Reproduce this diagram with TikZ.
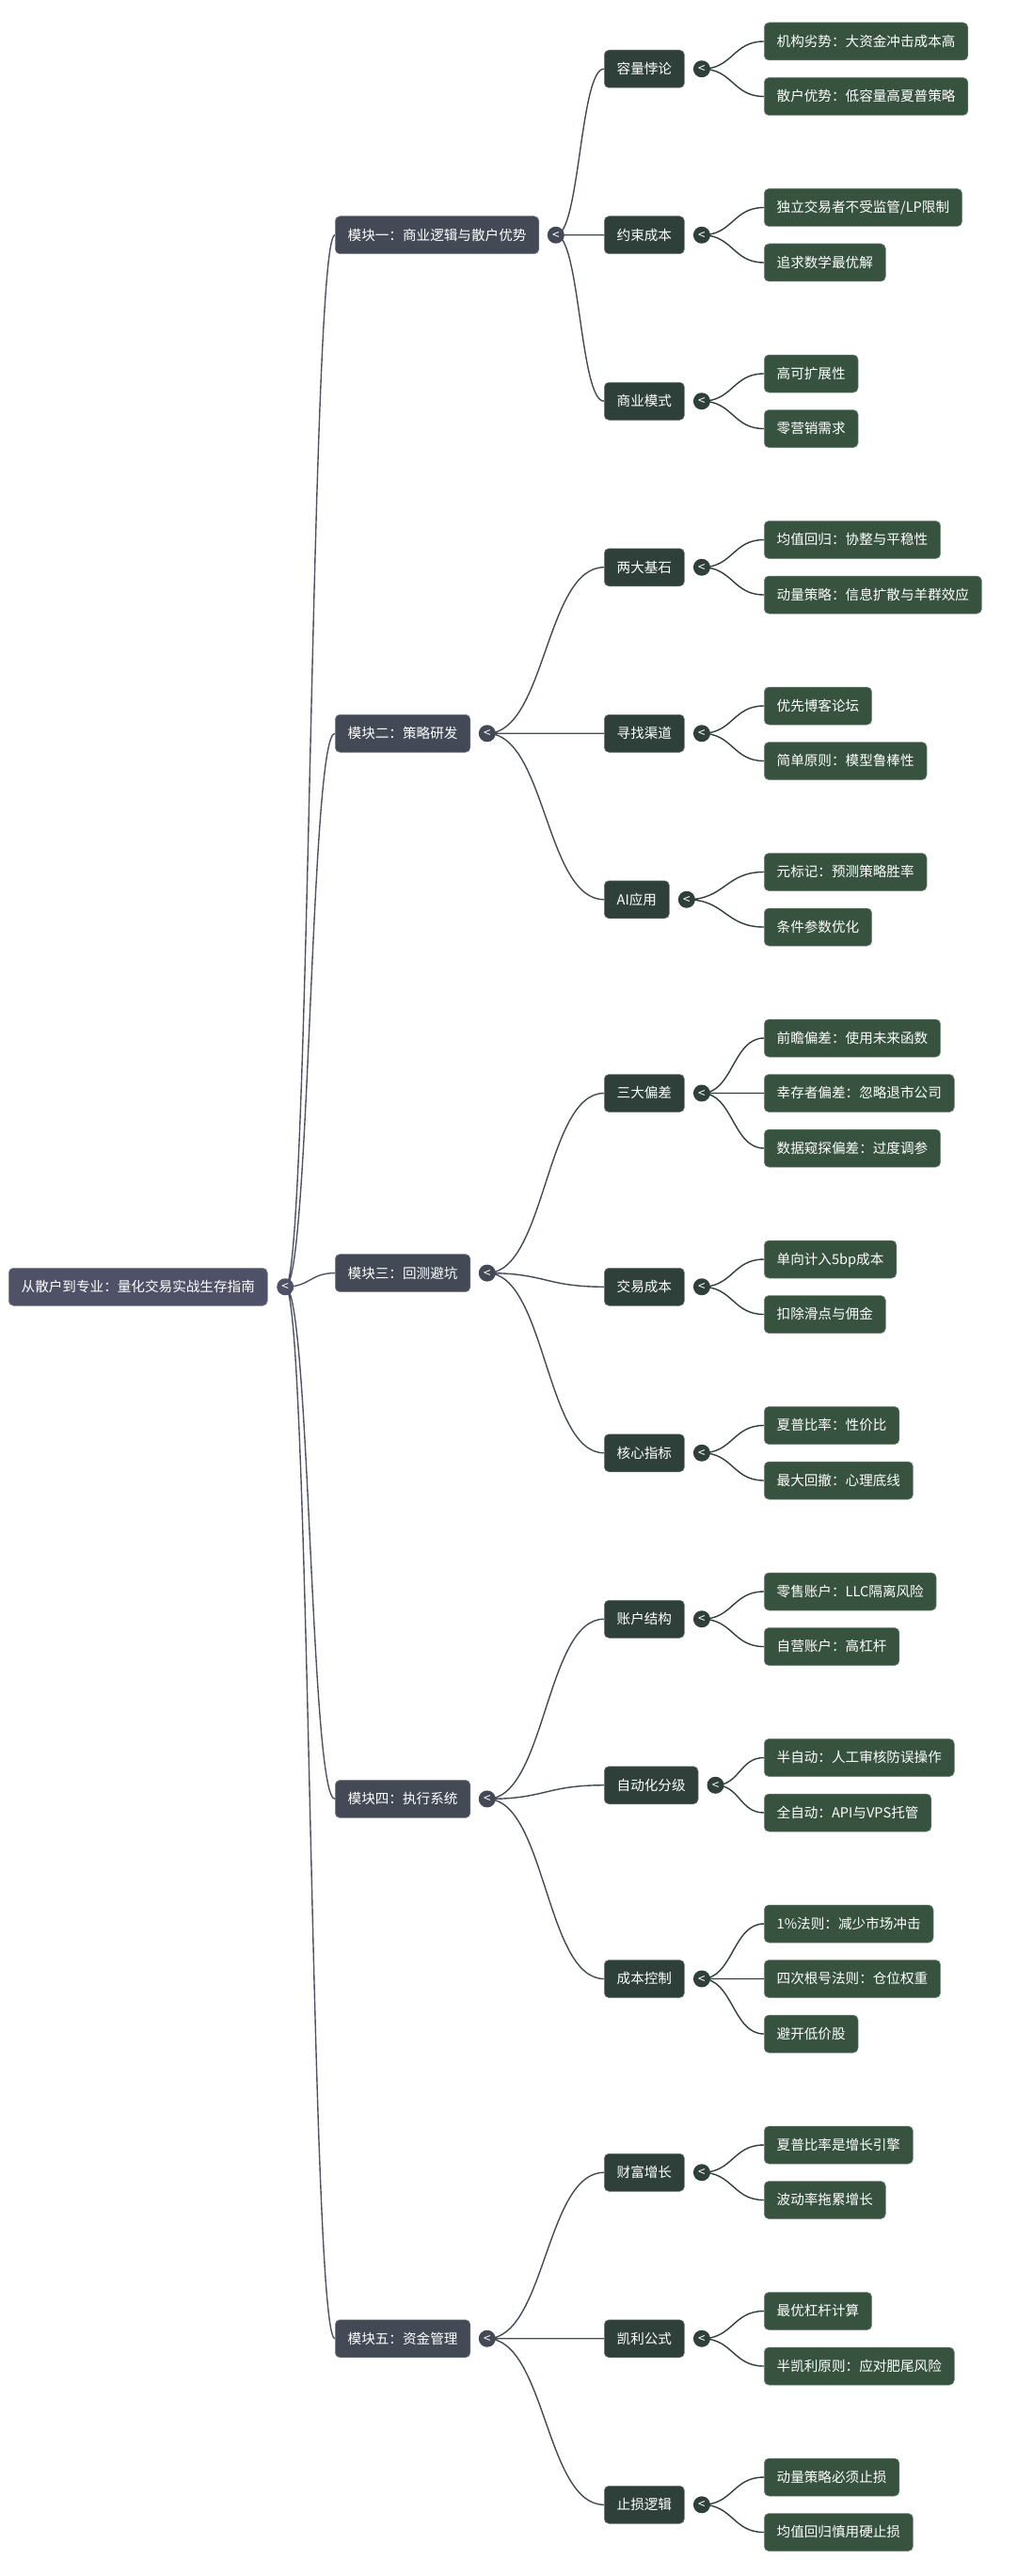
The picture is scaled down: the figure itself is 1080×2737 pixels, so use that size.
\documentclass[tikz,border=0pt]{standalone}
\usepackage{fontspec}
\setmainfont{Noto Sans CJK SC}
\usetikzlibrary{
  positioning,
  calc,
  backgrounds
}
\definecolor{rootc}{HTML}{4F5167}
\definecolor{modc}{HTML}{434A55}
\definecolor{subc}{HTML}{2F403A}
\definecolor{leafc}{HTML}{37533F}

\begin{document}
\begin{tikzpicture}[x=1pt, y=-1pt,
  every node/.style = {shape=rectangle, rounded corners=5pt,
    text=white, anchor=west, align=center, inner xsep=13.4pt,
    minimum height=40pt, text height=12pt, text depth=1.2pt,
    font=\fontsize{14.6}{16}\selectfont},
  box/.style = {fill=#1, draw=#1!70!white, line width=0.5pt},
  fold/.style = {shape=circle, fill=#1, inner sep=0pt, minimum size=18pt,
    text height=9pt, text depth=0pt, font=\fontsize{13.5}{13.5}\selectfont},
  link/.style = {draw=#1, line width=1.4pt,
    to path={let \p1=(\tikztostart), \p2=(\tikztotarget) in
      .. controls ({(\x1+\x2)/2},\y1) and ({(\x1+\x2)/2},\y2) .. (\tikztotarget)}}]
  \useasboundingbox (0,0) rectangle (1080,2737);

  \node[box=rootc] (guide) at (9,1367.25) {从散户到专业：量化交易实战生存指南};
  \node[fold=rootc, right=9.5pt of guide] (guide-f) {<};

  \node[box=modc] (m1) at (356,249.75) {模块一：商业逻辑与散户优势};
  \node[box=modc] (m2) at (356,779.25) {模块二：策略研发};
  \node[box=modc] (m3) at (356,1352.6) {模块三：回测避坑};
  \node[box=modc] (m4) at (356,1911.4) {模块四：执行系统};
  \node[box=modc] (m5) at (356,2484.75) {模块五：资金管理};
  \node[fold=modc, right=8.5pt of m1] (m1-f) {<};
  \node[fold=modc, right=8.5pt of m2] (m2-f) {<};
  \node[fold=modc, right=8.5pt of m3] (m3-f) {<};
  \node[fold=modc, right=8.5pt of m4] (m4-f) {<};
  \node[fold=modc, right=8.5pt of m5] (m5-f) {<};

  \node[box=subc] (m1a) at (642,73.25) {容量悖论};
  \node[box=subc] (m1b) at (642,249.75) {约束成本};
  \node[box=subc] (m1c) at (642,426.25) {商业模式};
  \node[box=subc] (m2a) at (642,602.75) {两大基石};
  \node[box=subc] (m2b) at (642,779.25) {寻找渠道};
  \node[box=subc] (m2c) at (642,955.75) {AI应用};
  \node[box=subc] (m3a) at (642,1161.5) {三大偏差};
  \node[box=subc] (m3b) at (642,1367.25) {交易成本};
  \node[box=subc] (m3c) at (642,1543.75) {核心指标};
  \node[box=subc] (m4a) at (642,1720.25) {账户结构};
  \node[box=subc] (m4b) at (642,1896.75) {自动化分级};
  \node[box=subc] (m4c) at (642,2102.5) {成本控制};
  \node[box=subc] (m5a) at (642,2308.25) {财富增长};
  \node[box=subc] (m5b) at (642,2484.75) {凯利公式};
  \node[box=subc] (m5c) at (642,2661.25) {止损逻辑};
  \node[fold=subc, right=9pt of m1a] (m1a-f) {<};
  \node[fold=subc, right=9pt of m1b] (m1b-f) {<};
  \node[fold=subc, right=9pt of m1c] (m1c-f) {<};
  \node[fold=subc, right=9pt of m2a] (m2a-f) {<};
  \node[fold=subc, right=9pt of m2b] (m2b-f) {<};
  \node[fold=subc, right=9pt of m2c] (m2c-f) {<};
  \node[fold=subc, right=9pt of m3a] (m3a-f) {<};
  \node[fold=subc, right=9pt of m3b] (m3b-f) {<};
  \node[fold=subc, right=9pt of m3c] (m3c-f) {<};
  \node[fold=subc, right=9pt of m4a] (m4a-f) {<};
  \node[fold=subc, right=9pt of m4b] (m4b-f) {<};
  \node[fold=subc, right=9pt of m4c] (m4c-f) {<};
  \node[fold=subc, right=9pt of m5a] (m5a-f) {<};
  \node[fold=subc, right=9pt of m5b] (m5b-f) {<};
  \node[fold=subc, right=9pt of m5c] (m5c-f) {<};

  \node[box=leafc] (m1a1) at (812,44) {机构劣势：大资金冲击成本高};
  \node[box=leafc] (m1a2) at (812,102.5) {散户优势：低容量高夏普策略};
  \node[box=leafc] (m1b1) at (812,220.5) {独立交易者不受监管/LP限制};
  \node[box=leafc] (m1b2) at (812,279) {追求数学最优解};
  \node[box=leafc] (m1c1) at (812,397) {高可扩展性};
  \node[box=leafc] (m1c2) at (812,455.5) {零营销需求};
  \node[box=leafc] (m2a1) at (812,573.5) {均值回归：协整与平稳性};
  \node[box=leafc] (m2a2) at (812,632) {动量策略：信息扩散与羊群效应};
  \node[box=leafc] (m2b1) at (812,750) {优先博客论坛};
  \node[box=leafc] (m2b2) at (812,808.5) {简单原则：模型鲁棒性};
  \node[box=leafc] (m2c1) at (812,926.5) {元标记：预测策略胜率};
  \node[box=leafc] (m2c2) at (812,985) {条件参数优化};
  \node[box=leafc] (m3a1) at (812,1103) {前瞻偏差：使用未来函数};
  \node[box=leafc] (m3a2) at (812,1161.5) {幸存者偏差：忽略退市公司};
  \node[box=leafc] (m3a3) at (812,1220) {数据窥探偏差：过度调参};
  \node[box=leafc] (m3b1) at (812,1338) {单向计入5bp成本};
  \node[box=leafc] (m3b2) at (812,1396.5) {扣除滑点与佣金};
  \node[box=leafc] (m3c1) at (812,1514.5) {夏普比率：性价比};
  \node[box=leafc] (m3c2) at (812,1573) {最大回撤：心理底线};
  \node[box=leafc] (m4a1) at (812,1691) {零售账户：LLC隔离风险};
  \node[box=leafc] (m4a2) at (812,1749.5) {自营账户：高杠杆};
  \node[box=leafc] (m4b1) at (812,1867.5) {半自动：人工审核防误操作};
  \node[box=leafc] (m4b2) at (812,1926) {全自动：API与VPS托管};
  \node[box=leafc] (m4c1) at (812,2044) {1\%法则：减少市场冲击};
  \node[box=leafc] (m4c2) at (812,2102.5) {四次根号法则：仓位权重};
  \node[box=leafc] (m4c3) at (812,2161) {避开低价股};
  \node[box=leafc] (m5a1) at (812,2279) {夏普比率是增长引擎};
  \node[box=leafc] (m5a2) at (812,2337.5) {波动率拖累增长};
  \node[box=leafc] (m5b1) at (812,2455.5) {最优杠杆计算};
  \node[box=leafc] (m5b2) at (812,2514) {半凯利原则：应对肥尾风险};
  \node[box=leafc] (m5c1) at (812,2632) {动量策略必须止损};
  \node[box=leafc] (m5c2) at (812,2690.5) {均值回归慎用硬止损};

  \begin{scope}[on background layer]
    \fill[white] (0,0) rectangle (1080,2737);
    \draw[link=rootc] (guide-f.center) to (m1.west) (guide-f.center) to (m2.west)
      (guide-f.center) to (m3.west) (guide-f.center) to (m4.west) (guide-f.center) to (m5.west);

    \draw[link=modc] (m1-f.center) to (m1a.west) (m1-f.center) to (m1b.west) (m1-f.center) to (m1c.west);
    \draw[link=modc] (m2-f.center) to (m2a.west) (m2-f.center) to (m2b.west) (m2-f.center) to (m2c.west);
    \draw[link=modc] (m3-f.center) to (m3a.west) (m3-f.center) to (m3b.west) (m3-f.center) to (m3c.west);
    \draw[link=modc] (m4-f.center) to (m4a.west) (m4-f.center) to (m4b.west) (m4-f.center) to (m4c.west);
    \draw[link=modc] (m5-f.center) to (m5a.west) (m5-f.center) to (m5b.west) (m5-f.center) to (m5c.west);

    \draw[link=subc] (m1a-f.center) to (m1a1.west) (m1a-f.center) to (m1a2.west);
    \draw[link=subc] (m1b-f.center) to (m1b1.west) (m1b-f.center) to (m1b2.west);
    \draw[link=subc] (m1c-f.center) to (m1c1.west) (m1c-f.center) to (m1c2.west);
    \draw[link=subc] (m2a-f.center) to (m2a1.west) (m2a-f.center) to (m2a2.west);
    \draw[link=subc] (m2b-f.center) to (m2b1.west) (m2b-f.center) to (m2b2.west);
    \draw[link=subc] (m2c-f.center) to (m2c1.west) (m2c-f.center) to (m2c2.west);
    \draw[link=subc] (m3a-f.center) to (m3a1.west) (m3a-f.center) to (m3a2.west) (m3a-f.center) to (m3a3.west);
    \draw[link=subc] (m3b-f.center) to (m3b1.west) (m3b-f.center) to (m3b2.west);
    \draw[link=subc] (m3c-f.center) to (m3c1.west) (m3c-f.center) to (m3c2.west);
    \draw[link=subc] (m4a-f.center) to (m4a1.west) (m4a-f.center) to (m4a2.west);
    \draw[link=subc] (m4b-f.center) to (m4b1.west) (m4b-f.center) to (m4b2.west);
    \draw[link=subc] (m4c-f.center) to (m4c1.west) (m4c-f.center) to (m4c2.west) (m4c-f.center) to (m4c3.west);
    \draw[link=subc] (m5a-f.center) to (m5a1.west) (m5a-f.center) to (m5a2.west);
    \draw[link=subc] (m5b-f.center) to (m5b1.west) (m5b-f.center) to (m5b2.west);
    \draw[link=subc] (m5c-f.center) to (m5c1.west) (m5c-f.center) to (m5c2.west);
  \end{scope}
\end{tikzpicture}
\end{document}
